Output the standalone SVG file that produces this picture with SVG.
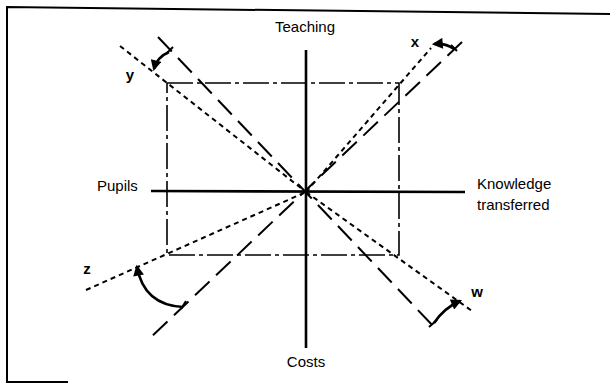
<svg xmlns="http://www.w3.org/2000/svg" width="610" height="383" viewBox="0 0 610 383">
<defs>
<marker id="ah" viewBox="0 0 10 10" refX="8" refY="5" markerWidth="4.6" markerHeight="4.2" orient="auto" markerUnits="strokeWidth">
<path d="M0,0 L10,5 L0,10 Z" fill="#000"/>
</marker>
<style>
.lbl{font-family:"Liberation Sans",Arial,sans-serif;font-size:15px;fill:#000}
.let{font-family:"Liberation Sans",Arial,sans-serif;font-size:15px;font-weight:bold;fill:#000}
.axis{stroke:#000;stroke-width:2.6;fill:none}
.dash{stroke:#000;stroke-width:2;stroke-dasharray:20 9;fill:none}
.dot{stroke:#000;stroke-width:2;stroke-dasharray:5 4;fill:none}
.rect{stroke:#000;stroke-width:1.6;stroke-dasharray:26 4 4 4;fill:none}
.arr{stroke:#000;stroke-width:2.6;fill:none;marker-end:url(#ah)}
.tick{stroke:#000;stroke-width:2;fill:none}
</style>
</defs>
<rect x="0" y="0" width="610" height="383" fill="#fff"/>
<g id="frame">
<path d="M68,382 L7,382 L7,7 L610,14" stroke="#000" stroke-width="2" fill="none"/>
</g>
<g id="box">
<rect class="rect" x="167" y="83" width="232" height="172"/>
</g>
<g id="connectors">
<line class="dot" x1="120" y1="46" x2="306" y2="192"/>
<line class="dot" x1="306" y1="192" x2="472" y2="311"/>
<line class="dot" x1="86" y1="290" x2="306" y2="192"/>
<line class="dot" x1="306" y1="192" x2="431" y2="48"/>
<line class="dash" x1="158" y1="37" x2="435" y2="328"/>
<line class="dash" x1="462" y1="42" x2="150" y2="338"/>
<line class="tick" x1="173" y1="47" x2="166" y2="54"/>
<line class="tick" x1="451" y1="45" x2="457" y2="51"/>
<line class="tick" x1="186" y1="301" x2="181" y2="309"/>
<line class="tick" x1="429" y1="327" x2="437" y2="320"/>
<path class="arr" d="M169,52 Q157,57 154,69"/>
<path class="arr" d="M454,49 Q446,43 434,44"/>
<path class="arr" d="M183,307 Q144,305 137,267"/>
<path class="arr" d="M434,323 Q444,308 460,301"/>
</g>
<g id="axes">
<line class="axis" x1="306" y1="50" x2="306" y2="348"/>
<line class="axis" x1="151" y1="191" x2="465" y2="192"/>
</g>
<g id="teaching"><text class="lbl" x="305" y="32" text-anchor="middle">Teaching</text></g>
<g id="costs"><text class="lbl" x="306" y="367" text-anchor="middle">Costs</text></g>
<g id="pupils"><text class="lbl" x="97" y="191">Pupils</text></g>
<g id="knowledge"><text class="lbl" x="477" y="189">Knowledge</text><text class="lbl" x="477" y="210">transferred</text></g>
<g id="label-y"><text class="let" x="130" y="80" text-anchor="middle">y</text></g>
<g id="label-x"><text class="let" x="415" y="47" text-anchor="middle">x</text></g>
<g id="label-z"><text class="let" x="87" y="274" text-anchor="middle">z</text></g>
<g id="label-w"><text class="let" x="477" y="297" text-anchor="middle">w</text></g>
</svg>
